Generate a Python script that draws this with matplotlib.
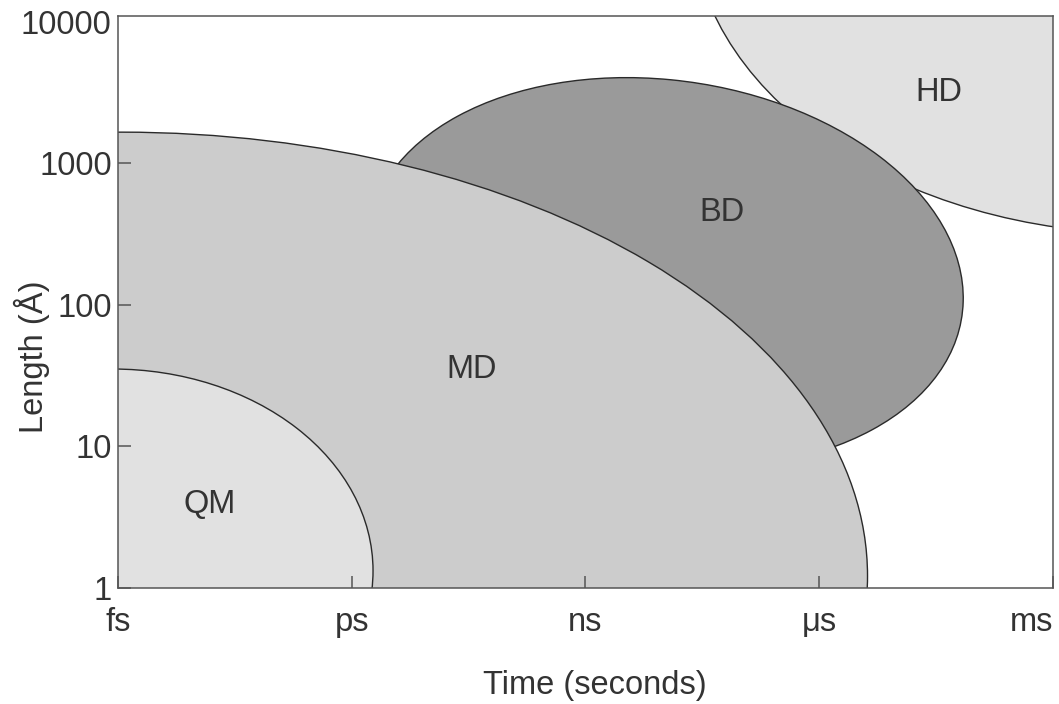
import numpy as np
import matplotlib.pyplot as plt
from matplotlib.patches import Ellipse

plt.rcParams['font.family'] = ['Liberation Sans', 'DejaVu Sans']

# Simulation regimes as ellipses in log10 space
# x = log10(time / s), y = log10(length / Angstrom)
regimes = ['HD', 'BD', 'MD', 'QM']          # drawn bottom to top
centre_x = [-1.77, -7.98, -14.96, -15.07]
centre_y = [4.76, 2.225, 0.084, 0.121]
widths = [11.75, 2.733, 19.16, 6.687]
heights = [4.517, 7.666, 6.271, 2.851]
angles = [0.0, 86.96, 0.0, 0.0]
fills = ['#e1e1e1', '#9a9a9a', '#cccccc', '#e1e1e1']

# label positions (same log10 space)
label_x = [-4.46, -7.25, -10.46, -13.82]
label_y = [3.50, 2.65, 1.54, 0.59]

time_ticks = [-15, -12, -9, -6, -3]
time_labels = ['fs', 'ps', 'ns', 'μs', 'ms']
length_ticks = [0, 1, 2, 3, 4]
length_labels = ['1', '10', '100', '1000', '10000']

txt_col = '#333333'
fs = 23.5

fig = plt.figure(figsize=(10.59, 7.04), dpi=100)
ax = fig.add_axes([0.1114, 0.1648, 0.8829, 0.8125])

for i, name in enumerate(regimes):
    e = Ellipse((centre_x[i], centre_y[i]), widths[i], heights[i], angle=angles[i],
                facecolor=fills[i], edgecolor='#2a2a2a', lw=1.0, zorder=i + 1)
    ax.add_patch(e)
    ax.text(label_x[i], label_y[i], name, ha='center', va='center',
            fontsize=fs, color=txt_col, zorder=10)

ax.set_xlim(-15, -3)
ax.set_ylim(0, 4.04)

ax.set_xticks(time_ticks)
ax.set_xticklabels(time_labels)
ax.get_xticklabels()[-1].set_horizontalalignment('right')
ax.set_yticks(length_ticks)
ax.set_yticklabels(length_labels)

ax.tick_params(axis='both', direction='in', length=9, width=1.1, color='#555555',
               labelsize=fs, labelcolor=txt_col)
ax.tick_params(axis='x', pad=14)
ax.tick_params(axis='y', pad=4.5)
# no tick mark at the top edge
ax.yaxis.get_major_ticks()[-1].tick1line.set_visible(False)
# ticks drawn over the filled regions
ax.xaxis.set_zorder(25)
ax.yaxis.set_zorder(25)

for sp in ax.spines.values():
    sp.set_color('#555555')
    sp.set_linewidth(1.1)
    sp.set_zorder(20)

ax.set_xlabel('Time (seconds)', fontsize=fs, color=txt_col)
ax.set_ylabel('Length (Å)', fontsize=fs, color=txt_col)
ax.xaxis.set_label_coords(0.51, -0.144)
ax.yaxis.set_label_coords(-0.073, 0.404)

fig.savefig('out.png')
